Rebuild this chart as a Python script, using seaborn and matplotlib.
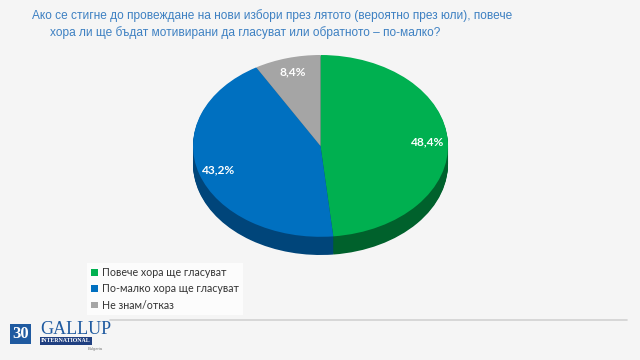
import matplotlib
matplotlib.use("Agg")
import matplotlib.pyplot as plt
import numpy as np
import seaborn as sns

# Data
labels = ["Повече хора ще гласуват", "По-малко хора ще гласуват", "Не знам/отказ"]
shares = [48.4, 43.2, 8.4]
title_line1 = "Ако се стигне до провеждане на нови избори през лятото (вероятно през юли), повече"
title_line2 = "хора ли ще бъдат мотивирани да гласуват или обратното – по-малко?"

top_colors = ["#00b050", "#0070c0", "#a5a5a5"]
side_colors = ["#00612c", "#00457a", "#6e6e6e"]

sns.set_style("white")
plt.rcParams["font.family"] = ["Liberation Sans", "DejaVu Sans"]

fig = plt.figure(figsize=(6.4, 3.6), dpi=100)
fig.patch.set_facecolor("#f5f5f5")

# pie axes: ellipse bounding box (pixels 193..448 x, 55..255 y)
ax = fig.add_axes([193 / 640, 1 - 255 / 360, 255 / 640, 200 / 360])
ax.set_facecolor("none")
depth = 0.2

# side of the 3D disc
for off in np.linspace(depth, 0.01, 20):
    ax.pie(shares, colors=side_colors, startangle=90, counterclock=False,
           center=(0, -off), radius=1, frame=True,
           wedgeprops=dict(linewidth=0))

wedges, _, autotexts = ax.pie(
    shares, colors=top_colors, startangle=90, counterclock=False,
    radius=1, frame=True, autopct=lambda p: f"{p:.1f}%".replace(".", ","),
    pctdistance=0.84, wedgeprops=dict(linewidth=0),
    textprops=dict(color="white", fontsize=8.6, fontweight="bold", family="Lato"))
ax.set_aspect("auto")
ax.set_xlim(-1, 1)
ax.set_ylim(-1 - depth, 1)
ax.axis("off")

# title
fig.text(32 / 640, 1 - 16 / 360, title_line1, color="#3d80c2", fontsize=8.6,
         ha="left", va="center")
fig.text(50 / 640, 1 - 33 / 360, title_line2, color="#3d80c2", fontsize=8.6,
         ha="left", va="center")

# legend
leg = fig.legend(wedges, labels, loc="upper left",
                 bbox_to_anchor=(82 / 640, 1 - 258 / 360),
                 frameon=True, handlelength=0.6, handleheight=0.6,
                 handletextpad=0.4, labelspacing=0.5, borderpad=0.35,
                 prop=dict(family="Lato", size=7.7))
leg.get_frame().set_facecolor("white")
leg.get_frame().set_edgecolor("none")
leg.get_frame().set_boxstyle("square", pad=0)
for t in leg.get_texts():
    t.set_color("#333333")

# bottom rule
fig.add_artist(plt.Line2D([110 / 640, 627 / 640], [1 - 320 / 360] * 2,
                          color="#d2d2d2", lw=1.2))

# logo
fig.text(12 / 640, 1 - 334 / 360, "30", color="white", fontsize=12,
         fontweight="bold", family="Liberation Serif", va="center",
         bbox=dict(facecolor="#1f5aa0", edgecolor="none", pad=1.5))
fig.text(40 / 640, 1 - 329 / 360, "GALLUP", color="#1f5aa0", fontsize=13,
         family="Liberation Serif", va="center")
fig.text(41 / 640, 1 - 341 / 360, "INTERNATIONAL", color="white", fontsize=4.2,
         fontweight="bold", family="Liberation Serif", va="center",
         bbox=dict(facecolor="#1f3f80", edgecolor="none", pad=0.8))
fig.text(88 / 640, 1 - 349 / 360, "Bulgaria", color="#777777", fontsize=3,
         va="center")

fig.savefig("out.png", dpi=100, facecolor=fig.get_facecolor())
